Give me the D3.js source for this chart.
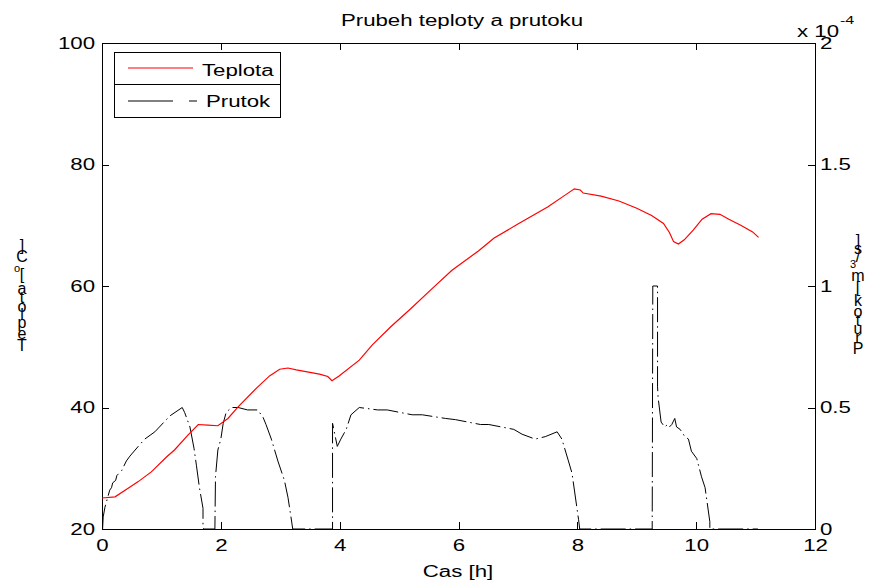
<!DOCTYPE html>
<html><head><meta charset="utf-8">
<script src="https://cdn.jsdelivr.net/npm/d3@7"></script>
<style>
body{margin:0;background:#fff}
svg{display:block}
text{font-family:"Liberation Sans",Arial,sans-serif;fill:#000}
</style>
</head><body>
<svg id="c" width="874" height="586"></svg>
<script>
// ---- data ----
const tempTime = [0,0.22,0.44,0.61,0.83,1.09,1.22,1.45,1.62,1.78,1.95,2.12,2.29,2.60,2.82,2.99,3.13,3.27,3.43,3.66,3.80,3.87,3.99,4.33,4.55,4.86,5.20,5.56,5.89,6.34,6.6,7.0,7.5,7.8,7.95,8.05,8.1,8.4,8.7,9.0,9.25,9.45,9.55,9.62,9.7,9.8,9.95,10.1,10.25,10.4,10.55,10.75,10.95,11.05];
const tempValues = [25.1,25.3,26.7,27.8,29.4,31.9,33.0,35.5,37.2,37.1,37.0,38.2,40.1,43.2,45.2,46.3,46.5,46.2,45.9,45.5,45.1,44.4,45.2,47.8,50.3,53.3,56.3,59.6,62.6,65.8,67.9,70.2,73.0,75.0,76.0,75.8,75.3,74.8,74.0,72.8,71.6,70.3,68.8,67.3,66.9,67.6,69.2,71.0,71.9,71.8,71.0,70.0,68.9,68.0];
const flowTime = [0,0.01,0.02,0.05,0.13,0.16,0.18,0.23,0.25,0.33,0.41,0.47,0.61,0.72,0.89,1.14,1.35,1.39,1.48,1.55,1.59,1.64,1.70,1.70,1.71,1.90,1.91,1.95,2.00,2.04,2.09,2.18,2.29,2.45,2.62,2.71,2.76,2.85,2.96,3.07,3.13,3.18,3.21,3.88,3.88,3.96,4.02,4.11,4.19,4.33,4.64,4.80,5.22,5.39,5.78,5.95,6.37,6.51,6.93,7.07,7.29,7.46,7.66,7.74,7.85,7.91,8.02,8.04,9.26,9.27,9.35,9.35,9.36,9.41,9.47,9.52,9.55,9.59,9.64,9.67,9.73,9.81,9.87,9.92,10.01,10.09,10.15,10.23,10.23,11.04];
// flow in units of 1e-4 m^3/s
const flowValues = [0,0,0.05,0.09,0.16,0.17,0.19,0.20,0.22,0.24,0.28,0.30,0.34,0.37,0.40,0.465,0.50,0.48,0.42,0.33,0.26,0.17,0.085,0.01,0,0,0.215,0.325,0.37,0.435,0.48,0.50,0.50,0.49,0.49,0.46,0.43,0.37,0.28,0.20,0.13,0.05,0,0,0.435,0.34,0.37,0.41,0.47,0.50,0.49,0.49,0.47,0.47,0.455,0.45,0.43,0.43,0.41,0.39,0.37,0.38,0.40,0.37,0.28,0.23,0.04,0,0,1.0,1.0,0.585,0.54,0.44,0.42,0.43,0.42,0.43,0.455,0.42,0.41,0.38,0.37,0.32,0.29,0.215,0.17,0.03,0,0];
const xTicks = [0,2,4,6,8,10,12];
const leftTicks = [20,40,60,80,100];
const rightTicks = [0,0.5,1,1.5,2];
const rightTickLabels = ["0","0.5","1","1.5","2"];
const titleText = "Prubeh teploty a prutoku";
const xLabelText = "Cas [h]";
const seriesNames = ["Teplota","Prutok"];
const exponentBase = "x 10";
const exponentPower = "-4";
const leftLabelParts = [["Teplota [",false],["o",true],["C]",false]];
const rightLabelParts = [["Prutok [m",false],["3",true],["/s]",false]];

// ---- layout ----
const M = {left:102, right:815, top:43, bottom:529};
const SX = 1.39;        // horizontal text stretch of the reference
const FS = 16;
const svg = d3.select("#c");

const x = d3.scaleLinear().domain([0,12]).range([M.left, M.right]);
const yL = d3.scaleLinear().domain([20,100]).range([M.bottom, M.top]);
const yR = d3.scaleLinear().domain([0,2]).range([M.bottom, M.top]);

function stretch(sel){
  sel.each(function(){
    const xx = +this.getAttribute("x") || 0;
    d3.select(this).attr("transform", `translate(${xx*(1-SX)},0) scale(${SX},1)`);
  });
}

// frame
svg.append("rect").attr("x",M.left).attr("y",M.top)
  .attr("width",M.right-M.left).attr("height",M.bottom-M.top)
  .attr("fill","#fff").attr("stroke","#000").attr("stroke-width",1).attr("shape-rendering","crispEdges");

function styleAxis(g){
  g.select(".domain").remove();
  g.selectAll("line").attr("stroke","#000").attr("shape-rendering","crispEdges");
  g.selectAll("text").attr("font-size",FS).attr("font-family","Liberation Sans, Arial, sans-serif").attr("fill","#000");
}

const gB = svg.append("g").attr("transform",`translate(0,${M.bottom})`)
  .call(d3.axisBottom(x).tickValues(xTicks).tickSizeInner(-7).tickSizeOuter(0).tickPadding(11));
styleAxis(gB); stretch(gB.selectAll("text"));
const gT = svg.append("g").attr("transform",`translate(0,${M.top})`)
  .call(d3.axisTop(x).tickValues(xTicks).tickSizeInner(-7).tickSizeOuter(0).tickFormat(""));
styleAxis(gT);
const gL = svg.append("g").attr("transform",`translate(${M.left},0)`)
  .call(d3.axisLeft(yL).tickValues(leftTicks).tickSizeInner(-7).tickSizeOuter(0).tickPadding(7));
styleAxis(gL); stretch(gL.selectAll("text"));
const gR = svg.append("g").attr("transform",`translate(${M.right},0)`)
  .call(d3.axisRight(yR).tickValues(rightTicks).tickSizeInner(-7).tickSizeOuter(0).tickPadding(5)
    .tickFormat((d,i)=>rightTickLabels[i]));
styleAxis(gR); stretch(gR.selectAll("text"));

// lines
const lineT = d3.line().x((d,i)=>x(tempTime[i])).y(d=>yL(d));
const lineF = d3.line().x((d,i)=>x(flowTime[i])).y(d=>yR(d));
svg.append("path").datum(flowValues).attr("d",lineF)
  .attr("fill","none").attr("stroke","#000").attr("stroke-width",1)
  .attr("stroke-dasharray","25,4,1.5,4");
svg.append("path").datum(tempValues).attr("d",lineT)
  .attr("fill","none").attr("stroke","#ff0000").attr("stroke-width",1.2);

// title, x label
svg.append("text").attr("x",462).attr("y",26).attr("text-anchor","middle").attr("font-size",FS).text(titleText).call(stretch);
svg.append("text").attr("x",458).attr("y",577).attr("text-anchor","middle").attr("font-size",FS).text(xLabelText).call(stretch);

// exponent
const eb = svg.append("text").attr("x",797).attr("y",37).attr("font-size",FS).text(exponentBase).call(stretch);
const ebw = eb.node().getComputedTextLength()*SX;
svg.append("text").attr("x",797+ebw+1).attr("y",24).attr("font-size",11.5).text(exponentPower).call(stretch);

// legend
const lg = svg.append("g");
lg.append("rect").attr("x",114).attr("y",52).attr("width",166).attr("height",65)
  .attr("fill","#fff").attr("stroke","#000").attr("shape-rendering","crispEdges");
lg.append("line").attr("x1",114).attr("x2",280).attr("y1",84.5).attr("y2",84.5).attr("stroke","#000");
lg.append("line").attr("x1",128).attr("x2",193).attr("y1",68).attr("y2",68).attr("stroke","#ff0000").attr("stroke-width",1.2);
lg.append("text").attr("x",202).attr("y",76).attr("font-size",FS).text(seriesNames[0]).call(stretch);
lg.append("line").attr("x1",128).attr("x2",197).attr("y1",101).attr("y2",101).attr("stroke","#000")
  .attr("stroke-dasharray","45,16,8");
lg.append("text").attr("x",206).attr("y",107).attr("font-size",FS).text(seriesNames[1]).call(stretch);

// stacked (glyph-upright) axis labels as in the reference rendering
function stackLabel(parts, cx, bottom, top){
  const chars = [];
  parts.forEach(([s,sup])=>{ for(const ch of s) chars.push({ch, sup}); });
  const tmp = svg.append("text").attr("font-size",FS);
  chars.forEach(c=>{
    tmp.attr("font-size", c.sup?11:FS).text(c.ch===" "?"\u00a0":c.ch);
    c.w = tmp.node().getComputedTextLength();
  });
  tmp.remove();
  const total = d3.sum(chars, c=>c.w);
  const k = (bottom-top)/total;
  let cum = 0;
  const g = svg.append("g");
  chars.forEach(c=>{
    const cy = bottom - (cum + c.w/2)*k;
    cum += c.w;
    if(c.ch===" ") return;
    g.append("text").attr("x", c.sup? cx-5 : cx).attr("y", cy)
      .attr("text-anchor","middle").attr("dominant-baseline","central")
      .attr("font-size", c.sup?11:FS).text(c.ch);
  });
}
stackLabel(leftLabelParts, 22, 352, 243);
stackLabel(rightLabelParts, 858, 355, 238);
</script>
</body></html>
